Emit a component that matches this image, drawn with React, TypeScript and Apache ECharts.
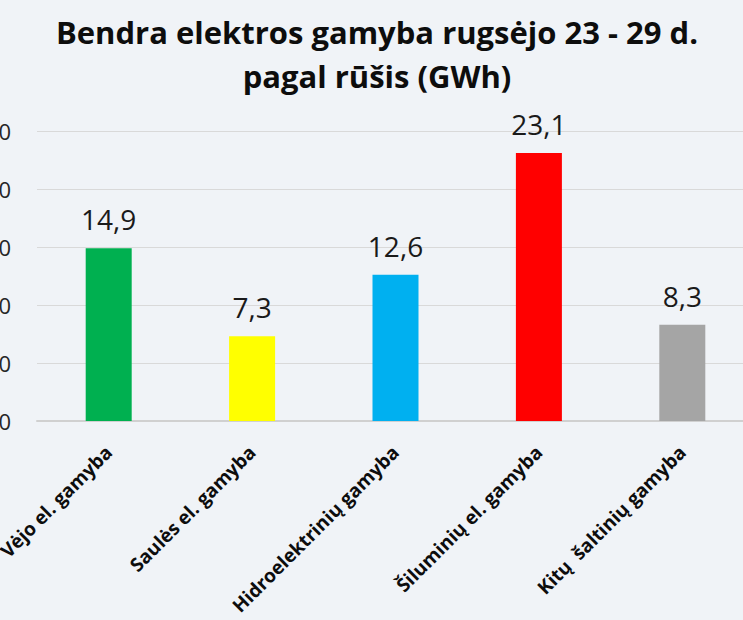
import React, { useEffect, useRef } from "react";
import * as echarts from "echarts";

const titleLines = ["Bendra elektros gamyba rugsėjo 23 - 29 d.", "pagal rūšis (GWh)"];
const categories = [
  "Vėjo el. gamyba",
  "Saulės el. gamyba",
  "Hidroelektrinių gamyba",
  "Šiluminių el. gamyba",
  "Kitų  šaltinių gamyba",
];
const values = [14.9, 7.3, 12.6, 23.1, 8.3];
const barColors = ["#00B050", "#FFFF00", "#00B0F0", "#FF0000", "#A5A5A5"];
const yMin = 0;
const yMax = 25;
const yInterval = 5;

const fmt = (v: number) => v.toFixed(1).replace(".", ",");

export default function App() {
  const ref = useRef<HTMLDivElement>(null);
  useEffect(() => {
    if (!ref.current) return;
    const chart = echarts.init(ref.current, undefined, { renderer: "svg" });
    chart.setOption({
      animation: false,
      backgroundColor: "#F0F3F7",
      title: {
        text: titleLines.join("\n"),
        left: "center",
        top: 5,
        textStyle: {
          fontFamily: "Open Sans",
          fontWeight: "bold",
          fontSize: 31,
          lineHeight: 44,
          color: "#0D0D0D",
        },
      },
      grid: { left: 117, right: 80, top: 131, bottom: 199, containLabel: false },
      xAxis: {
        type: "category",
        data: categories,
        axisTick: { show: false },
        axisLine: { lineStyle: { color: "#D0D0D0", width: 2 } },
        axisLabel: {
          rotate: 45,
          interval: 0,
          margin: 28,
          fontFamily: "Open Sans",
          fontWeight: "bold",
          fontSize: 19,
          color: "#0D0D0D",
        },
      },
      yAxis: {
        type: "value",
        min: yMin,
        max: yMax,
        interval: yInterval,
        axisLine: { show: false },
        axisTick: { show: false },
        splitLine: { lineStyle: { color: "#D9D9D9", width: 1 } },
        axisLabel: {
          margin: 26,
          fontFamily: "Open Sans",
          fontSize: 22,
          color: "#262626",
          formatter: (v: number) => fmt(v),
        },
      },
      series: [
        {
          type: "bar",
          barWidth: 46,
          data: values.map((v, i) => ({ value: v, itemStyle: { color: barColors[i] } })),
          label: {
            show: true,
            position: "top",
            distance: 15,
            fontFamily: "Open Sans",
            fontSize: 28,
            color: "#1A1A1A",
            formatter: (p: any) => fmt(p.value),
          },
        },
      ],
    });
    return () => chart.dispose();
  }, []);
  return (
    <div
      style={{
        position: "fixed",
        left: 0,
        top: 0,
        width: 743,
        height: 620,
        overflow: "hidden",
        background: "#F0F3F7",
      }}
    >
      <div ref={ref} style={{ position: "absolute", left: -80, top: 0, width: 914, height: 620 }} />
    </div>
  );
}
